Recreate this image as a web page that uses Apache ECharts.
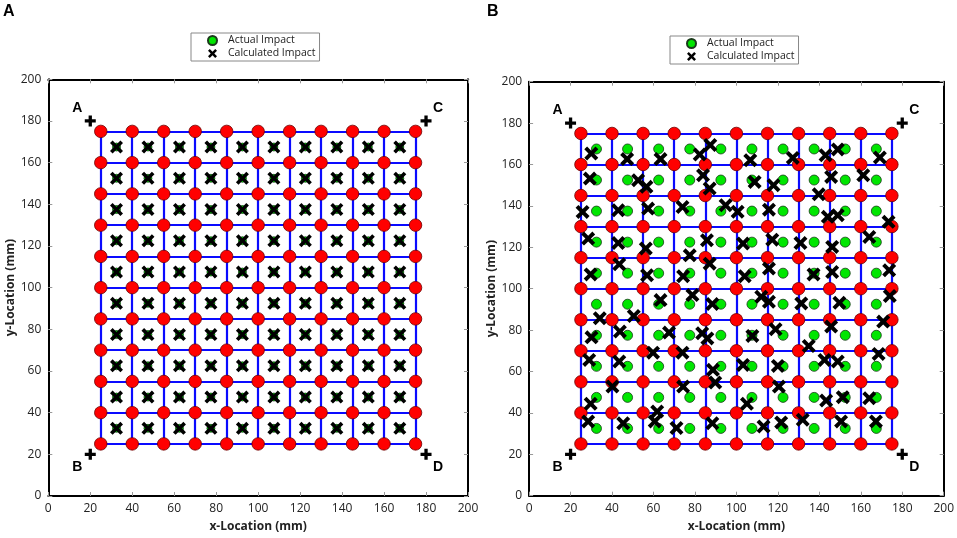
<!DOCTYPE html>
<html>
<head>
<meta charset="utf-8">
<title>Impact location</title>
<script src="https://cdn.jsdelivr.net/npm/echarts@6/dist/echarts.min.js"></script>
<style>
    html, body { margin: 0; padding: 0; background: #fff; }
    #main { width: 957px; height: 538px; }
</style>
</head>
<body>
<div id="main"></div>
<script>
// grid of sensor lines / nodes (mm)
var gridPos = [25, 40, 55, 70, 85, 100, 115, 130, 145, 160, 175];
// centres of the cells, where the impacts were made (mm)
var cellCentres = [32.5, 47.5, 62.5, 77.5, 92.5, 107.5, 122.5, 137.5, 152.5, 167.5];
// reference points
var cornerNames = ['A', 'C', 'B', 'D'];
var cornerX = [20, 180, 20, 180];
var cornerY = [180, 180, 20, 20];
// axis ticks
var axisTicks = [0, 20, 40, 60, 80, 100, 120, 140, 160, 180, 200];

// panel B: calculated impact positions [x, y] (mm)
var calcB = [
    [30, 165.3], [47.3, 162.6], [63.4, 162.6], [82.3, 164.8], [87.4, 169.4], [106.7, 162.1], [127.2, 163.2], [143, 164.5], [148.9, 167.3], [169.2, 163.4],
    [29.3, 153.2], [52.6, 152.4], [56.6, 149.2], [83.9, 154.8], [87.1, 148.4], [108.8, 151.6], [117.9, 150], [139.7, 145.6], [145.7, 154], [161.2, 154.8],
    [25.8, 137.1], [43, 137.9], [57.4, 138.7], [74, 139.5], [94.8, 140.3], [100.6, 137.2], [115.7, 138.2], [144.1, 134.7], [148.9, 135.5], [173.4, 132.3],
    [28.5, 124.2], [43, 122.1], [56.3, 119.4], [77.5, 116.1], [85.8, 123.4], [103.2, 121.8], [117.3, 123.7], [130.9, 122.1], [146.2, 120.2], [164.1, 125],
    [29.7, 106.9], [43.5, 111.8], [56.9, 106.5], [74.3, 106], [87.1, 112.1], [104, 106], [115.7, 109.7], [137.2, 106.9], [146.2, 108.1], [173.7, 108.9],
    [63.4, 94.5], [78.8, 96.9], [88.4, 92.6], [112, 96.1], [115.7, 93.7], [131.3, 92.9], [149.7, 93.2], [174, 96.5],
    [34.1, 85.7], [50.5, 86.8], [30.1, 76.5], [43.8, 79.3], [67.5, 78.8], [83.5, 78.5], [86, 76], [107.7, 77.2], [118.9, 80.4], [134.9, 72.3], [145.7, 81.7], [170.8, 84.1],
    [29, 65.6], [43.5, 64.8], [59.8, 69.1], [74, 69.1], [88.7, 60.8], [89.8, 54.7], [103.2, 63.2], [120, 62.7], [142.5, 65.6], [148.9, 64.8], [168.6, 68.5],
    [29.7, 44.4], [40.2, 52.7], [61.8, 40.7], [74.3, 52.7], [105.1, 44.4], [120.5, 52.7], [143.3, 46], [151.3, 47.6], [164.1, 47.1],
    [28.5, 35.9], [45.4, 35], [60.6, 35.9], [71.1, 32.7], [88.4, 35], [113.1, 33.4], [121.6, 35.4], [132, 36.7], [150.5, 35.9], [167.3, 35.9]
];

var FONT = 'Open Sans';
var xIcon = 'path://M0,2L2,0L5,3L8,0L10,2L7,5L10,8L8,10L5,7L2,10L0,8L3,5Z';
var plusIcon = 'path://M3.5,0H6.5V3.5H10V6.5H6.5V10H3.5V6.5H0V3.5H3.5Z';

// actual impacts = every cell centre
var actual = [];
cellCentres.forEach(function (y) {
    cellCentres.forEach(function (x) {
        actual.push([x, y]);
    });
});
// panel A: calculated sits on the actual impact
var calcA = actual.slice();

// red nodes and blue lines
var nodes = [];
var lineSegs = [];
gridPos.forEach(function (a) {
    gridPos.forEach(function (b) {
        nodes.push([b, a]);
    });
    lineSegs.push({ coords: [[a, gridPos[0]], [a, gridPos[gridPos.length - 1]]] });
    lineSegs.push({ coords: [[gridPos[0], a], [gridPos[gridPos.length - 1], a]] });
});

var corners = cornerNames.map(function (n, i) {
    return { name: n, value: [cornerX[i], cornerY[i]] };
});
var labelOffset = { A: [-13, -13], C: [12, -13], B: [-13, 13], D: [12, 13] };

var grids = [
    { left: 48.3, top: 79.3, width: 419.7, height: 417.4 },
    { left: 529.1, top: 81.7, width: 415.8, height: 414 }
];

var makeAxis = function (dim, pos, gi, main) {
    var ax = {
        type: 'value',
        gridIndex: gi,
        position: pos,
        min: axisTicks[0],
        max: axisTicks[axisTicks.length - 1],
        interval: axisTicks[1] - axisTicks[0],
        axisLine: { show: true, onZero: false, lineStyle: { color: '#000', width: 2 } },
        axisTick: { show: true, inside: true, length: 4, lineStyle: { color: '#999', width: 1 } },
        splitLine: { show: false },
        axisLabel: { show: main, color: '#222', fontFamily: FONT, fontSize: 12, margin: 7 }
    };
    if (main) {
        ax.name = dim === 'x' ? 'x-Location (mm)' : 'y-Location (mm)';
        ax.nameLocation = 'middle';
        ax.nameGap = dim === 'x' ? 25 : 29;
        ax.nameTextStyle = { fontFamily: FONT, fontSize: 12, fontWeight: 'bold', color: '#222' };
    }
    return ax;
};

var xAxes = [], yAxes = [], series = [];
grids.forEach(function (g, gi) {
    xAxes.push(makeAxis('x', 'bottom', gi, true));
    xAxes.push(makeAxis('x', 'top', gi, false));
    yAxes.push(makeAxis('y', 'left', gi, true));
    yAxes.push(makeAxis('y', 'right', gi, false));
    var ax = { xAxisIndex: gi * 2, yAxisIndex: gi * 2 };
    var calc = gi === 0 ? calcA : calcB;
    series.push(Object.assign({
        type: 'lines', coordinateSystem: 'cartesian2d', silent: true, z: 1,
        lineStyle: { color: '#0a0aff', width: 2.2, opacity: 1 },
        data: lineSegs
    }, ax));
    series.push(Object.assign({
        type: 'scatter', name: 'nodes', symbol: 'circle', symbolSize: 12.5, z: 2, silent: true,
        itemStyle: { color: '#ff0000', borderColor: '#6b0000', borderWidth: 0.8, opacity: 1 },
        data: nodes
    }, ax));
    series.push(Object.assign({
        type: 'scatter', name: 'Actual Impact', symbol: 'circle', symbolSize: gi === 0 ? 8 : 10, z: 3,
        itemStyle: { color: '#00e600', borderColor: '#1a3a1a', borderWidth: 0.8, opacity: 1 },
        data: actual
    }, ax));
    series.push(Object.assign({
        type: 'scatter', name: 'Calculated Impact', symbol: xIcon, symbolSize: gi === 0 ? 13 : 14, z: 4,
        itemStyle: { color: '#000', opacity: 1 },
        data: calc
    }, ax));
    series.push(Object.assign({
        type: 'scatter', name: 'corners', symbol: plusIcon, symbolSize: 11, z: 4, silent: true,
        itemStyle: { color: '#000', opacity: 1 },
        label: {
            show: true, formatter: '{b}', color: '#000', fontFamily: 'Liberation Sans',
            fontWeight: 'bold', fontSize: 14
        },
        data: corners.map(function (c) {
            return {
                name: c.name, value: c.value,
                label: { position: 'inside', offset: labelOffset[c.name] }
            };
        })
    }, ax));
});

var legendItems = [
    { name: 'Actual Impact', icon: 'circle' },
    { name: 'Calculated Impact', icon: xIcon }
];
var makeLegend = function (left, top) {
    return {
        left: left, top: top, orient: 'vertical',
        data: legendItems,
        selectedMode: false,
        itemWidth: 9, itemHeight: 9, itemGap: 2,
        padding: [2, 4, 2, 16],
        borderColor: '#888', borderWidth: 1,
        textStyle: { fontFamily: FONT, fontSize: 10.5, color: '#222', padding: [0, 0, 0, 6] }
    };
};

var myChart = echarts.init(document.getElementById('main'));
var option = {
    animation: false,
    backgroundColor: '#fff',
    grid: grids,
    xAxis: xAxes,
    yAxis: yAxes,
    legend: [makeLegend(191, 33), makeLegend(670, 36)],
    graphic: [
        { type: 'text', left: 3, top: 4, style: { text: 'A', font: 'bold 16px Liberation Sans', fill: '#000' } },
        { type: 'text', left: 487, top: 4, style: { text: 'B', font: 'bold 16px Liberation Sans', fill: '#000' } }
    ],
    series: series
};
myChart.setOption(option);
</script>
</body>
</html>
